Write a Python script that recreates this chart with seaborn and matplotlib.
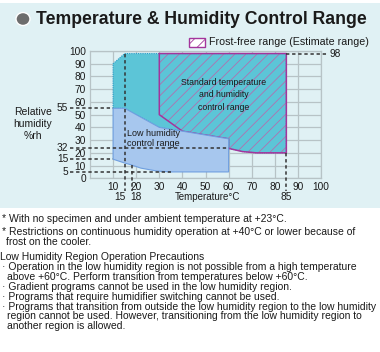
import matplotlib
matplotlib.use("Agg")
import matplotlib.pyplot as plt
from matplotlib.patches import Rectangle, Circle, Polygon
import seaborn as sns
import pandas as pd

# --- data ---
std_temp = [10, 10, 15, 85, 85, 72, 66, 60, 60, 40, 30, 15]
std_rh = [55, 90, 98, 98, 20, 20, 21, 23.5, 31, 37, 40, 55]

frost_temp = [30, 85, 85, 72, 66, 60, 60, 40, 30, 30]
frost_rh = [98, 98, 20, 20, 21, 23.5, 31, 37, 50, 98]

low_temp = [10, 10, 15, 30, 40, 60, 60, 35, 29, 22, 18, 15, 10]
low_rh = [15, 55, 55, 40, 37, 31, 5, 5, 5.7, 8, 10.5, 12, 15]

# guide lines (the "32" guide sits at ~23.5 on the drawn grid)
hguide_y = [55, 23.5, 15, 5]
hguide_end = [10, 60, 10, 35]
hguide_lbl = ["55", "32", "15", "5"]
vguide_x = [15, 18, 85]
vguide_top = [98, 10.5, 20]
vguide_lbl = ["15", "18", "85"]
top_limit = 98

x_ticks = [10, 20, 30, 40, 50, 60, 70, 80, 90, 100]
y_ticks = [0, 10, 20, 30, 40, 50, 60, 70, 80, 90, 100]

notes = [
    ("* With no specimen and under ambient temperature at +23°C.", 2, 219),
    ("* Restrictions on continuous humidity operation at +40°C or lower because of", 2, 232),
    ("frost on the cooler.", 6, 242),
    ("Low Humidity Region Operation Precautions", 0, 257),
    ("· Operation in the low humidity region is not possible from a high temperature", 2, 267),
    ("above +60°C. Perform transition from temperatures below +60°C.", 7, 277),
    ("· Gradient programs cannot be used in the low humidity region.", 2, 287),
    ("· Programs that require humidifier switching cannot be used.", 2, 297),
    ("· Programs that transition from outside the low humidity region to the low humidity", 2, 307),
    ("region cannot be used. However, transitioning from the low humidity region to", 7, 316),
    ("another region is allowed.", 7, 326),
]

W, H = 380, 352
BAND = "#e0f1f4"
TEAL = "#5cc5d7"
LOWB = "#a7c7ee"
MAG = "#a3359c"
GRID = "#b7c3c6"
TXT = "#1a1a1a"

sns.set_style("white")
plt.rcParams["font.family"] = ["Liberation Sans", "DejaVu Sans"]
plt.rcParams["hatch.linewidth"] = 0.6


def px(x, y):
    return x / W, 1 - y / H


fig = plt.figure(figsize=(3.8, 3.52), dpi=100)
fig.patches.append(Rectangle(px(0, 208), 1, 205 / H, transform=fig.transFigure,
                             facecolor=BAND, edgecolor="none", zorder=-5))

# title
fig.patches.append(Circle(px(23, 19), 7 / W, transform=fig.transFigure,
                          facecolor="#6d6d6d", edgecolor="white", lw=1, zorder=2))
fig.text(*px(36, 19.5), "Temperature & Humidity Control Range", fontsize=12.7,
         fontweight="bold", color=TXT, va="center", ha="left")

ax = fig.add_axes([90 / W, 1 - 178.3 / H, 231 / W, 127.3 / H])
ax.set_facecolor("none")
ax.set_xlim(0, 100)
ax.set_ylim(0, 100)
ax.set_xticks(x_ticks)
ax.set_yticks(y_ticks)
ax.grid(True, color=GRID, lw=0.9)
ax.set_axisbelow(True)
for s in ax.spines.values():
    s.set_color(GRID)
    s.set_linewidth(0.9)
ax.tick_params(length=0, labelsize=7.3, colors=TXT, pad=3)

# standard range
ax.add_patch(Polygon(list(zip(std_temp, std_rh)), closed=True, facecolor=TEAL,
                     edgecolor="#2b9cc9", lw=0.8, ls=(0, (1, 1)), zorder=2))
# frost free hatch
ax.add_patch(Polygon(list(zip(frost_temp, frost_rh)), closed=True, facecolor="none",
                     edgecolor="#b070b0", hatch="///", lw=0, zorder=3))
frost = pd.DataFrame({"t": frost_temp, "rh": frost_rh})
sns.lineplot(data=frost, x="t", y="rh", sort=False, estimator=None, ax=ax,
             color=MAG, lw=1.1, zorder=4)
# low humidity range
ax.add_patch(Polygon(list(zip(low_temp, low_rh)), closed=True, facecolor=LOWB,
                     edgecolor="#6f9fe0", lw=0.8, zorder=5))

# guides
dash = dict(color="#333333", lw=1.1, ls=(0, (2.2, 1.8)), clip_on=False, zorder=6)
for y, xe, lbl in zip(hguide_y, hguide_end, hguide_lbl):
    ax.plot([-8.5, xe], [y, y], **dash)
    ax.text(-9.5, y, lbl, fontsize=7.3, color=TXT, ha="right", va="center")
for x, yt, lbl, ha, dx in zip(vguide_x, vguide_top, vguide_lbl,
                              ["right", "left", "center"], [0.4, -0.6, 0]):
    ax.plot([x, x], [yt, -10], **dash)
    ax.text(x + dx, -14.5, lbl, fontsize=7.3, color=TXT, ha=ha, va="center")
ax.plot([85, 102.5], [top_limit, top_limit], **dash)
ax.text(103.5, top_limit, str(top_limit), fontsize=7.3, color=TXT, ha="left", va="center")

ax.text(58, 65.5, "Standard temperature\nand humidity\ncontrol range", fontsize=6.3,
        color=TXT, ha="center", va="center", linespacing=1.45, zorder=7)
ax.text(16, 31.5, "Low humidity\ncontrol range", fontsize=6.5, color=TXT,
        ha="left", va="center", linespacing=1.2, zorder=7)
ax.set_xlabel("")
ax.set_ylabel("")
fig.text(*px(207, 197), "Temperature°C", fontsize=7, color=TXT, ha="center", va="center")
fig.text(*px(33, 124), "Relative\nhumidity\n%rh", fontsize=7.5, color=TXT,
         ha="center", va="center", linespacing=1.25)

# legend swatch
lx, ly = px(189, 47)
fig.patches.append(Rectangle((lx, ly), 16 / W, 9 / H, transform=fig.transFigure,
                             facecolor="white", edgecolor=MAG, hatch="///", lw=1, zorder=3))
fig.text(*px(209, 42), "Frost-free range (Estimate range)", fontsize=7.7, color=TXT,
         ha="left", va="center")

for s, x, y in notes:
    fig.text(*px(x, y), s, fontsize=7.45, color=TXT, ha="left", va="center")

fig.savefig("out.png", dpi=100)
